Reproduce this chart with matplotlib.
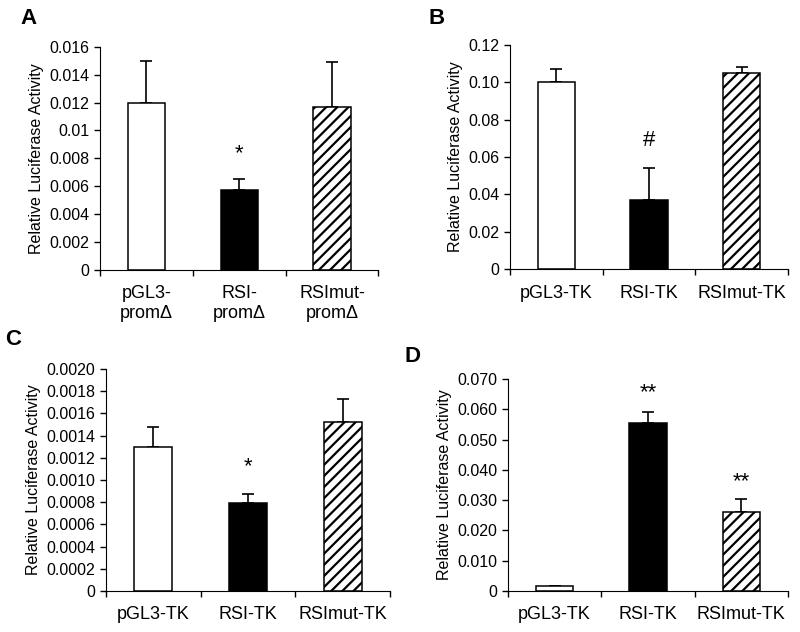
import numpy as np
import matplotlib
matplotlib.use("Agg")
import matplotlib.pyplot as plt

plt.rcParams['font.family'] = ['Liberation Sans', 'DejaVu Sans']
plt.rcParams['hatch.linewidth'] = 1.6

# panel data
labels_a = ["pGL3-\npromΔ", "RSI-\npromΔ", "RSImut-\npromΔ"]
means_a = [0.0120, 0.00575, 0.0117]
errs_a = [0.0030, 0.00075, 0.0032]
yticks_a = [0, 0.002, 0.004, 0.006, 0.008, 0.01, 0.012, 0.014, 0.016]
yticklabels_a = ["0", "0.002", "0.004", "0.006", "0.008", "0.01", "0.012", "0.014", "0.016"]
marks_a = ["", "*", ""]
mark_y_a = [0, 0.0083, 0]

labels_b = ["pGL3-TK", "RSI-TK", "RSImut-TK"]
means_b = [0.100, 0.037, 0.105]
errs_b = [0.007, 0.017, 0.003]
yticks_b = [0, 0.02, 0.04, 0.06, 0.08, 0.10, 0.12]
yticklabels_b = ["0", "0.02", "0.04", "0.06", "0.08", "0.10", "0.12"]
marks_b = ["", "#", ""]
mark_y_b = [0, 0.069, 0]

labels_c = ["pGL3-TK", "RSI-TK", "RSImut-TK"]
means_c = [0.00130, 0.00079, 0.00152]
errs_c = [0.00018, 0.00008, 0.00021]
yticks_c = [0, 0.0002, 0.0004, 0.0006, 0.0008, 0.0010, 0.0012, 0.0014, 0.0016, 0.0018, 0.0020]
yticklabels_c = ["0", "0.0002", "0.0004", "0.0006", "0.0008", "0.0010", "0.0012", "0.0014",
                 "0.0016", "0.0018", "0.0020"]
marks_c = ["", "*", ""]
mark_y_c = [0, 0.00112, 0]

labels_d = ["pGL3-TK", "RSI-TK", "RSImut-TK"]
means_d = [0.0015, 0.0556, 0.0260]
errs_d = [0.0002, 0.0034, 0.0045]
yticks_d = [0, 0.010, 0.020, 0.030, 0.040, 0.050, 0.060, 0.070]
yticklabels_d = ["0", "0.010", "0.020", "0.030", "0.040", "0.050", "0.060", "0.070"]
marks_d = ["", "**", "**"]
mark_y_d = [0, 0.0655, 0.0360]

fills = ["white", "black", "white"]
hatches = [None, None, "///"]

fig = plt.figure(figsize=(8, 6.32), dpi=100)


def panel(rect, letter, letter_xy, labels, means, errs, yticks, yticklabels, marks, mark_y):
    ax = fig.add_axes(rect)
    x = np.arange(3) + 0.5
    for i in range(3):
        ax.bar(x[i], means[i], width=0.4, color=fills[i], edgecolor="black",
               linewidth=1.1, hatch=hatches[i], zorder=2)
    ax.errorbar(x, means, yerr=[np.zeros(3), errs], fmt="none", ecolor="black",
                elinewidth=1.2, capsize=4, capthick=1.2, zorder=1)
    for i in range(3):
        if marks[i]:
            ax.text(x[i], mark_y[i], marks[i], ha="center", va="center", fontsize=16)
    ax.set_xlim(0, 3)
    ax.set_ylim(0, yticks[-1])
    ax.set_yticks(yticks)
    ax.set_yticklabels(yticklabels, fontsize=11.5)
    ax.set_xticks([0, 1, 2, 3])
    ax.set_xticklabels([])
    ax.set_xticks(x, minor=True)
    ax.set_xticklabels(labels, minor=True, fontsize=13)
    ax.tick_params(axis="x", which="minor", length=0, pad=11)
    ax.tick_params(axis="both", which="major", length=4, width=1, direction="out")
    ax.spines["top"].set_visible(False)
    ax.spines["right"].set_visible(False)
    ax.set_ylabel("Relative Luciferase Activity", fontsize=11.5)
    fig.text(letter_xy[0] / 800, 1 - letter_xy[1] / 632, letter, fontsize=16,
             fontweight="bold", ha="left", va="top")
    return ax


panel([0.125, 0.573, 0.348, 0.353], "A", (20, 8), labels_a, means_a, errs_a, yticks_a,
      yticklabels_a, marks_a, mark_y_a)
panel([0.6375, 0.574, 0.3475, 0.355], "B", (428, 8), labels_b, means_b, errs_b, yticks_b,
      yticklabels_b, marks_b, mark_y_b)
panel([0.1325, 0.065, 0.355, 0.351], "C", (5, 329), labels_c, means_c, errs_c, yticks_c,
      yticklabels_c, marks_c, mark_y_c)
panel([0.635, 0.065, 0.35, 0.335], "D", (405, 346), labels_d, means_d, errs_d, yticks_d,
      yticklabels_d, marks_d, mark_y_d)

fig.savefig("out.png", dpi=100)
